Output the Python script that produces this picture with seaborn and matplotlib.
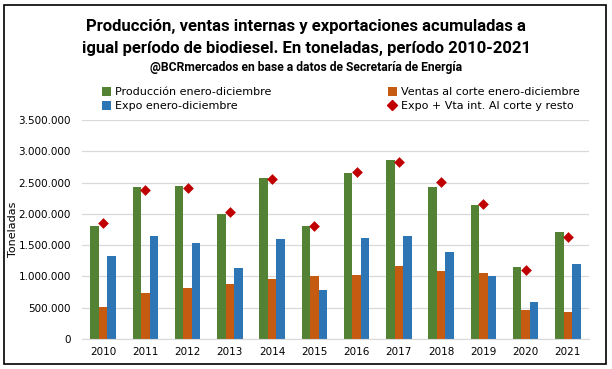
"""
Producción, ventas internas y exportaciones de biodiesel 2010-2021
Barras agrupadas + diamantes (Expo + Vta int.)
"""

import pandas as pd
import matplotlib.pyplot as plt
import matplotlib.patches as mpatches
from matplotlib.lines import Line2D
from matplotlib.ticker import FuncFormatter, MultipleLocator
import seaborn as sns
import numpy as np

# Datos (toneladas)
anios = ['2010', '2011', '2012', '2013', '2014', '2015',
         '2016', '2017', '2018', '2019', '2020', '2021']
produccion = [1809000, 2431000, 2447000, 2005000, 2574000, 1809000,
              2654000, 2862000, 2431000, 2144000, 1154000, 1713000]
ventas = [505000, 739000, 819000, 883000, 963000, 1011000,
          1027000, 1170000, 1090000, 1059000, 468000, 436000]
expo = [1330000, 1649000, 1537000, 1138000, 1601000, 787000,
        1617000, 1649000, 1394000, 1011000, 596000, 1202000]
expo_vta_resto = [1851000, 2388000, 2415000, 2027000, 2564000, 1798000,
                  2665000, 2824000, 2505000, 2154000, 1101000, 1628000]

series = ['Producción enero-diciembre', 'Ventas al corte enero-diciembre',
          'Expo enero-diciembre']
etiqueta_diamante = 'Expo + Vta int. Al corte y resto'

colores = {'Producción enero-diciembre': '#548235',
           'Ventas al corte enero-diciembre': '#C55A11',
           'Expo enero-diciembre': '#2E75B6'}
color_diamante = '#C00000'

df = pd.DataFrame({'anio': anios * 3,
                   'serie': np.repeat(series, len(anios)),
                   'valor': produccion + ventas + expo})

sns.set_style('white')
plt.rcParams['font.family'] = ['DejaVu Sans']
plt.rcParams['text.color'] = 'black'
plt.rcParams['axes.labelcolor'] = 'black'

W, H = 612, 369
fig = plt.figure(figsize=(W / 100, H / 100), dpi=100)
ax = fig.add_axes([82 / W, 1 - 339 / H, (589 - 82) / W, (339 - 120) / H])

sns.barplot(data=df, x='anio', y='valor', hue='serie', hue_order=series,
            palette=colores, width=0.6, saturation=1, legend=False,
            linewidth=0, ax=ax)

ax.scatter(np.arange(len(anios)), expo_vta_resto, marker='D', s=30,
           color=color_diamante, zorder=5, linewidths=0)

ax.set_xlim(-0.5, len(anios) - 0.5)
ax.set_ylim(0, 3500000)
ax.yaxis.set_major_locator(MultipleLocator(500000))
ax.yaxis.set_major_formatter(FuncFormatter(lambda v, p: f'{v:,.0f}'.replace(',', '.')))
ax.grid(axis='y', color='#D9D9D9', linewidth=0.9)
ax.set_axisbelow(True)
for lado in ['left', 'right', 'top']:
    ax.spines[lado].set_visible(False)
ax.spines['bottom'].set_color('#D9D9D9')
ax.tick_params(axis='both', length=0, labelsize=7.5, colors='black')
ax.tick_params(axis='y', pad=8)
ax.tick_params(axis='x', pad=6)
ax.set_xlabel('')
ax.set_ylabel('Toneladas', fontsize=8)
ax.yaxis.set_label_coords((18 - 82) / (589 - 82), 0.5)

# Títulos
fuente_titulo = ['Roboto', 'DejaVu Sans']
fig.text(0.5, 1 - 27 / H, 'Producción, ventas internas y exportaciones acumuladas a',
         ha='center', va='center', fontsize=12, fontweight='bold', family=fuente_titulo)
fig.text(0.5, 1 - 48 / H, 'igual período de biodiesel. En toneladas, período 2010-2021',
         ha='center', va='center', fontsize=12, fontweight='bold', family=fuente_titulo)
fig.text(0.5, 1 - 68 / H, '@BCRmercados en base a datos de Secretaría de Energía',
         ha='center', va='center', fontsize=8.7, fontweight='bold', family=fuente_titulo)

# Leyendas (dos columnas como en el original)
def cuadro(c):
    return mpatches.Patch(facecolor=c, edgecolor='none')

diamante = Line2D([], [], marker='D', color=color_diamante, linestyle='none',
                  markersize=5)
kw = dict(frameon=False, fontsize=8, labelspacing=0.35, handlelength=0.8,
          handleheight=0.8, handletextpad=0.4, borderpad=0, borderaxespad=0)
fig.legend([cuadro(colores[series[0]]), cuadro(colores[series[2]])],
           [series[0], series[2]], loc='upper left',
           bbox_to_anchor=(102 / W, 1 - 87 / H), **kw)
fig.legend([cuadro(colores[series[1]]), diamante],
           [series[1], etiqueta_diamante], loc='upper left',
           bbox_to_anchor=(388 / W, 1 - 87 / H), **kw)

# Marco
fig.patches.append(mpatches.Rectangle((4 / W, 5 / H), 602 / W, 359 / H,
                                      transform=fig.transFigure, fill=False,
                                      edgecolor='black', linewidth=1.2))

fig.savefig('out.png', dpi=100)
